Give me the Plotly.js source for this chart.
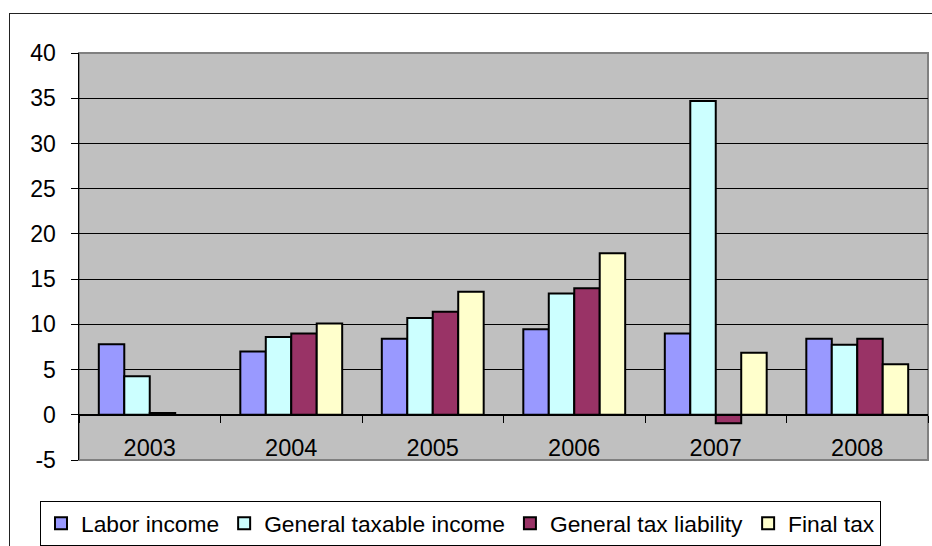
<!DOCTYPE html>
<html><head><meta charset="utf-8">
<script src="https://cdn.plot.ly/plotly-3.0.1.min.js"></script>
<style>
html,body{margin:0;padding:0;background:#fff;overflow:hidden}
#frame{position:absolute;left:9px;top:13px;width:1000px;height:1000px;border:1.5px solid #222;box-sizing:border-box}
#chart{position:absolute;left:0;top:0;width:932px;height:546px}
</style></head>
<body>
<div id="frame"></div>
<div id="chart"></div>
<script>
const years = ['2003','2004','2005','2006','2007','2008'];
const laborIncome = [7.8, 7.0, 8.4, 9.45, 9.0, 8.4];
const generalTaxableIncome = [4.25, 8.6, 10.7, 13.4, 34.7, 7.75];
const generalTaxLiability = [0.2, 9.0, 11.4, 14.0, -0.95, 8.4];
const finalTax = [null, 10.1, 13.6, 17.85, 6.85, 5.6];
const seriesNames = ['Labor income','General taxable income','General tax liability','Final tax'];
const seriesColors = ['#9999FF','#CCFFFF','#993366','#FFFFCC'];
const yTicks = [-5,0,5,10,15,20,25,30,35,40];

const allValues = [laborIncome, generalTaxableIncome, generalTaxLiability, finalTax];
const traces = allValues.map((v,i)=>({
  type:'bar', x:years, y:v, name:seriesNames[i],
  marker:{color:seriesColors[i], line:{color:'#000', width:2}},
  hoverinfo:'x+y+name'
}));

const font = {family:'Arial, "Liberation Sans", sans-serif', color:'#000'};
const layout = {
  width:932, height:546,
  margin:{l:79, r:4, t:53, b:86, pad:0},
  paper_bgcolor:'rgba(0,0,0,0)',
  plot_bgcolor:'#C0C0C0',
  barmode:'group', bargap:0.28, bargroupgap:0,
  font:font,
  showlegend:true,
  legend:{orientation:'h', xref:'container', yref:'container',
    x:40/932, y:1-501/546, xanchor:'left', yanchor:'top',
    bgcolor:'#fff', bordercolor:'#000', borderwidth:1,
    font:{family:font.family, size:22.8, color:'#000'},
    itemwidth:30, traceorder:'normal'},
  xaxis:{type:'category', anchor:'free', position:5/45, tickson:'boundaries',
    ticks:'outside', ticklen:7, tickcolor:'#000', tickwidth:1,
    showline:true, linecolor:'#000', linewidth:1.5, showgrid:false,
    tickfont:{family:font.family, size:23.5, color:'#000'}, ticklabelstandoff:12},
  yaxis:{range:[-5,40], tickvals:yTicks, ticktext:yTicks.map(String),
    ticks:'outside', ticklen:7, tickcolor:'#000', tickwidth:1,
    showline:true, linecolor:'#000', linewidth:1.5,
    showgrid:true, gridcolor:'#000', gridwidth:1, zeroline:false,
    tickfont:{family:font.family, size:23, color:'#000'}, ticklabelstandoff:10},
  shapes:[{type:'rect', xref:'paper', yref:'paper', x0:0, x1:1, y0:0, y1:1,
    line:{color:'#808080', width:2}, layer:'below'}]
};
Plotly.newPlot('chart', traces, layout, {displayModeBar:false, staticPlot:true});
</script>
</body></html>
